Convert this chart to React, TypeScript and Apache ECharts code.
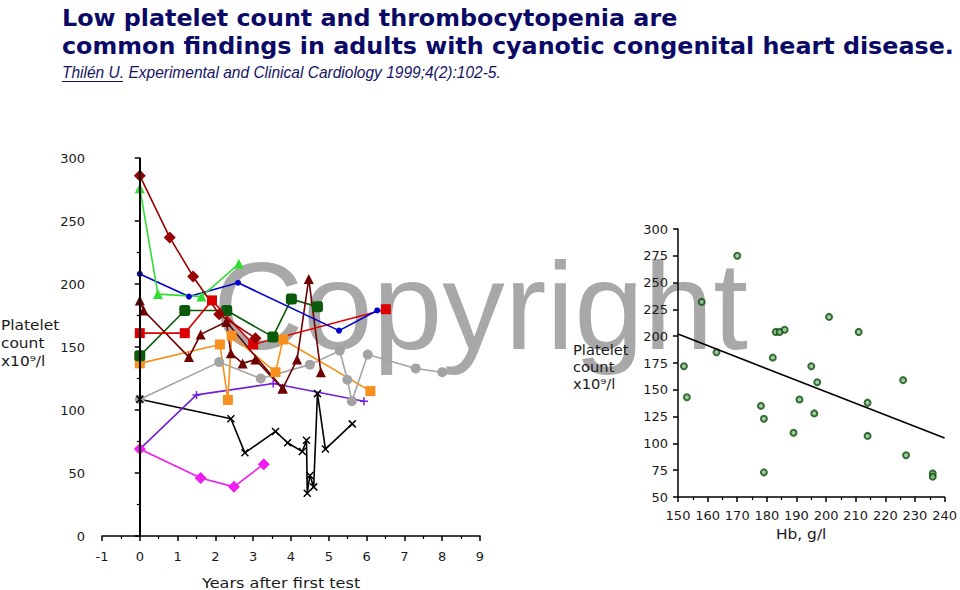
import React, { useEffect, useRef } from "react";
import * as echarts from "echarts";

// ---------- Left panel: platelet count over years ----------
const darkRedDiamonds: [number, number][] = [[0, 286], [0.79, 237], [1.41, 206], [2.1, 176], [3.06, 157]];
const redSquares: [number, number][] = [[0, 161], [1.19, 161], [1.91, 187], [3.0, 152], [6.51, 180]];
const blueDots: [number, number][] = [[0, 208], [1.3, 190], [2.6, 201], [5.27, 163], [6.28, 179]];
const greenTriangles: [number, number][] = [[0, 276], [0.48, 192], [1.63, 190], [2.62, 216]];
const darkGreenSquares: [number, number][] = [[0, 143], [1.19, 179], [2.3, 179], [3.52, 158], [4.01, 188], [4.7, 182]];
const maroonTrianglesA: [number, number][] = [[0, 187], [0.1, 179], [1.3, 142], [1.61, 160], [2.29, 170], [3.78, 117], [4.16, 140], [4.47, 204], [4.79, 130]];
const maroonTrianglesB: [number, number][] = [[2.29, 170], [2.41, 145], [2.72, 137], [3.06, 140], [3.78, 117]];
const orangeSquares: [number, number][] = [[0, 137], [2.12, 152], [2.33, 108], [2.43, 159], [3.59, 130], [3.79, 156], [6.1, 115]];
const grayCircles: [number, number][] = [[0, 108.5], [2.1, 138], [3.2, 125], [4.5, 136], [5.29, 147], [5.49, 124], [5.61, 107], [6.03, 144], [7.3, 133], [8.0, 130]];
const purplePlus: [number, number][] = [[0, 69], [1.5, 112], [3.53, 121], [5.93, 107]];
const blackCross: [number, number][] = [[0, 108.5], [2.41, 93], [2.78, 66], [3.59, 83], [3.91, 74], [4.3, 67], [4.41, 76], [4.43, 34], [4.5, 48], [4.6, 39], [4.7, 113], [4.91, 69], [5.62, 89]];
const magentaDiamonds: [number, number][] = [[0, 69], [1.61, 46], [2.49, 39], [3.28, 57]];

// ---------- Right panel: platelet count vs Hb ----------
const hbPlatelet: [number, number][] = [
  [152, 172], [153, 143], [158, 232], [163, 185], [170, 275], [178, 135], [179, 123], [179, 73],
  [182, 180], [183, 204], [184.3, 204], [186, 206], [189, 110], [191, 141], [195, 172], [196, 128],
  [197, 157], [201, 218], [211, 204], [214, 138], [214, 107], [226, 159], [227, 89], [236, 72], [236, 69],
];
const trendLine: [number, number][] = [[150, 202], [240, 105]];

const leftXTicks = { min: -1, max: 9, interval: 1 };
const leftYTicks = { min: 0, max: 300, interval: 50 };
const rightXTicks = { min: 150, max: 240, interval: 10 };
const rightYTicks = { min: 50, max: 300, interval: 25 };

const titleLine1 = "Low platelet count and thrombocytopenia are";
const titleLine2 = "common findings in adults with cyanotic congenital heart disease.";
const citeAuthor = "Thilén U.";
const citeRest = " Experimental and Clinical Cardiology 1999;4(2):102-5.";

const FONT = "DejaVu Sans";
const PLUS = "path://M0,5L10,5M5,0L5,10";
const CROSS = "path://M0,0L10,10M10,0L0,10";

function lineSeries(name: string, data: [number, number][], color: string, symbol: string, size: number, extra: any = {}) {
  return {
    name,
    type: "line",
    xAxisIndex: 0,
    yAxisIndex: 0,
    data,
    symbol,
    symbolSize: size,
    showAllSymbol: true,
    lineStyle: { color, width: 1.6 },
    itemStyle: { color, borderColor: color, borderWidth: 0 },
    ...extra,
  };
}

export default function App() {
  const ref = useRef<HTMLDivElement>(null);
  useEffect(() => {
    if (!ref.current) return;
    const chart = echarts.init(ref.current, undefined, { renderer: "svg" });
    const axisLine = { show: true, lineStyle: { color: "#000", width: 1.5 } };
    const tickStyle = { show: true, length: 5, lineStyle: { color: "#000", width: 1.5 } };
    const minorTick = { show: true, splitNumber: 2, length: 3, lineStyle: { color: "#000", width: 1.2 } };
    const label = { color: "#1a1a1a", fontFamily: FONT, fontSize: 13 };
    const option: any = {
      animation: false,
      backgroundColor: "#fff",
      grid: [
        { left: 102, top: 158, width: 378, height: 378 },
        { left: 678, top: 229, width: 269, height: 268 },
      ],
      xAxis: [
        {
          gridIndex: 0, type: "value", ...leftXTicks,
          axisLine, axisTick: tickStyle, minorTick, splitLine: { show: false },
          axisLabel: { ...label, margin: 14 },
        },
        {
          gridIndex: 1, type: "value", ...rightXTicks,
          axisLine, axisTick: tickStyle, minorTick, splitLine: { show: false },
          axisLabel: { ...label, margin: 12 },
        },
      ],
      yAxis: [
        {
          gridIndex: 0, type: "value", ...leftYTicks, offset: 5,
          axisLine, axisTick: tickStyle, minorTick, splitLine: { show: false },
          axisLabel: { ...label, margin: 12 },
        },
        {
          gridIndex: 1, type: "value", ...rightYTicks,
          axisLine, axisTick: tickStyle, splitLine: { show: false },
          axisLabel: { ...label, margin: 10 },
        },
      ],
      graphic: [
        {
          type: "text", left: 213, top: 243, z: -10, silent: true,
          style: { text: "Copyright", font: "125px 'Liberation Sans'", fill: "#a8a8a8" },
        },
        {
          type: "text", left: 62, top: 6,
          style: { text: titleLine1, font: `bold 23.8px '${FONT}'`, fill: "#0a0a66" },
        },
        {
          type: "text", left: 62, top: 34,
          style: { text: titleLine2, font: `bold 23.8px '${FONT}'`, fill: "#0a0a66" },
        },
        {
          type: "text", x: 62, y: 64, scaleX: 0.97,
          style: {
            text: `{a|${citeAuthor}}{b|${citeRest}}`,
            rich: {
              a: { font: "italic 16px 'Liberation Sans'", fill: "#141464" },
              b: { font: "italic 16px 'Liberation Sans'", fill: "#141464" },
            },
          },
        },
        {
          type: "line", shape: { x1: 62, y1: 81.5, x2: 123, y2: 81.5 },
          style: { stroke: "#141464", lineWidth: 1 },
        },
        {
          type: "text", x: 1, y: 316, scaleX: 1.1,
          style: { text: "Platelet\ncount\nx10⁹/l", font: `14px '${FONT}'`, fill: "#1a1a1a", lineHeight: 18 },
        },
        {
          type: "text", x: 573, y: 342, scaleX: 1.05,
          style: { text: "Platelet\ncount\nx10⁹/l", font: `14px '${FONT}'`, fill: "#1a1a1a", lineHeight: 17 },
        },
        {
          type: "text", x: 202, y: 576, scaleX: 1.15,
          style: { text: "Years after first test", font: `14px '${FONT}'`, fill: "#1a1a1a" },
        },
        {
          type: "text", x: 776, y: 527, scaleX: 1.1,
          style: { text: "Hb, g/l", font: `14px '${FONT}'`, fill: "#1a1a1a" },
        },
      ],
      series: [
        {
          type: "line", xAxisIndex: 0, yAxisIndex: 0, data: [], symbol: "none",
          markLine: {
            silent: true, symbol: ["none", "none"], label: { show: false },
            lineStyle: { color: "#000", width: 2, type: "solid" },
            data: [{ xAxis: 0 }],
          },
        },
        lineSeries("gray", grayCircles, "#a3a3a3", "circle", 10),
        lineSeries("black", blackCross, "#000000", CROSS, 7, { itemStyle: { color: "none", borderColor: "#000", borderWidth: 1.5 } }),
        lineSeries("purple", purplePlus, "#7020d8", PLUS, 8, { itemStyle: { color: "none", borderColor: "#7020d8", borderWidth: 1.5 } }),
        lineSeries("magenta", magentaDiamonds, "#f01cf0", "diamond", 12),
        lineSeries("orange", orangeSquares, "#f7901e", "rect", 10),
        lineSeries("darkgreen", darkGreenSquares, "#0b5a0b", "roundRect", 11),
        lineSeries("maroonB", maroonTrianglesB, "#6e0000", "triangle", 10),
        lineSeries("maroonA", maroonTrianglesA, "#6e0000", "triangle", 10),
        lineSeries("red", redSquares, "#dd0000", "rect", 10),
        lineSeries("blue", blueDots, "#0000cc", "circle", 6),
        lineSeries("green", greenTriangles, "#33dd33", "triangle", 10),
        lineSeries("darkred", darkRedDiamonds, "#990000", "diamond", 12),
        {
          type: "scatter", xAxisIndex: 1, yAxisIndex: 1, data: hbPlatelet,
          symbol: "circle", symbolSize: 6,
          itemStyle: { color: "#8fbf8f", borderColor: "#0d4f0d", borderWidth: 2 },
        },
        {
          type: "line", xAxisIndex: 1, yAxisIndex: 1, data: trendLine, symbol: "none",
          lineStyle: { color: "#000", width: 1.6 },
        },
      ],
    };
    chart.setOption(option);
    return () => chart.dispose();
  }, []);
  return <div ref={ref} style={{ position: "fixed", left: 0, top: 0, width: 960, height: 590 }} />;
}
